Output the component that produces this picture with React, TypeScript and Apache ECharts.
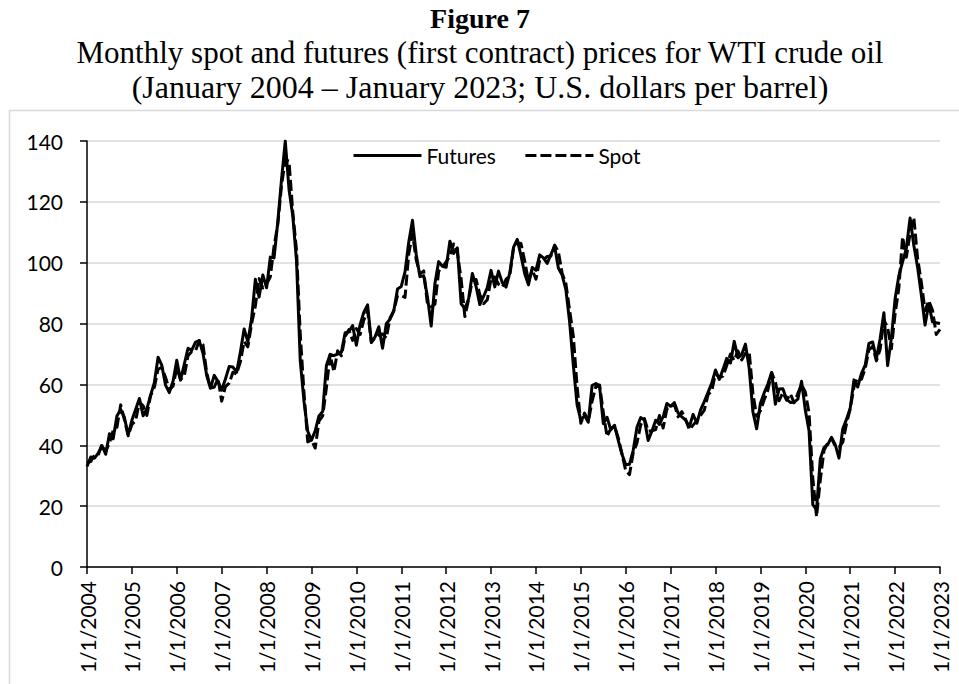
import React, { useEffect, useRef } from "react";
import * as echarts from "echarts";

const FIRST_YEAR = 2004;
const LAST_YEAR = 2023;

// Futures (first contract), monthly, Jan 2004 – Jan 2023
const futures = [
  33.05, 36.16, 35.76, 37.38, 39.88, 37.05, 43.8, 42.12, 49.64, 51.76, 49.13, 43.45,
  48.2, 51.75, 55.4, 49.72, 51.97, 56.5, 60.57, 68.94, 66.24, 59.76, 57.32, 61.04,
  67.92, 61.41, 66.63, 71.88, 71.29, 73.93, 74.4, 70.26, 62.91, 58.73, 62.97, 61.05,
  58.14, 61.79, 65.87, 65.71, 64.01, 70.68, 78.21, 74.04, 81.66, 94.53, 88.71, 95.98,
  91.75, 101.84, 101.58, 113.46, 127.35, 140.0, 124.08, 115.46, 100.64, 67.81, 54.43, 44.6,
  41.68, 44.76, 49.66, 51.12, 66.31, 69.89, 69.45, 69.96, 70.61, 77.0, 77.28, 79.36,
  72.89, 79.66, 83.76, 86.15, 73.97, 75.63, 78.95, 71.92, 79.97, 81.43, 84.11, 91.38,
  92.19, 96.97, 106.72, 113.93, 102.7, 95.42, 95.7, 88.81, 79.2, 93.19, 100.36, 98.83,
  98.48, 107.07, 103.02, 104.87, 86.53, 84.96, 88.06, 96.47, 92.19, 86.24, 88.91, 91.82,
  97.49, 92.05, 97.23, 93.46, 91.97, 96.56, 105.03, 107.65, 102.33, 96.38, 92.72, 98.42,
  97.49, 102.59, 101.58, 99.74, 102.71, 105.37, 98.17, 95.96, 91.16, 80.54, 66.15, 53.27,
  48.24, 49.76, 47.6, 59.63, 60.3, 59.47, 47.12, 49.2, 45.09, 46.59, 41.65, 37.04,
  33.62, 33.75, 38.34, 45.92, 49.1, 48.33, 41.6, 44.7, 48.24, 46.86, 49.44, 53.72,
  52.81, 54.01, 50.6, 49.33, 48.32, 46.04, 50.17, 47.23, 51.67, 54.38, 57.4, 60.42,
  64.73, 61.64, 64.94, 68.57, 67.04, 74.15, 68.76, 69.8, 73.25, 65.31, 50.93, 45.41,
  53.79, 57.22, 60.14, 63.91, 53.5, 58.47, 58.58, 55.1, 54.07, 54.18, 55.17, 61.06,
  51.56, 44.76, 20.48, 18.84, 35.49, 39.27, 40.27, 42.61, 40.22, 35.79, 45.34, 48.52,
  52.2, 61.5, 59.16, 63.58, 66.32, 73.47, 73.95, 68.5, 75.03, 83.57, 66.18, 75.21,
  88.15, 95.72, 100.28, 104.69, 114.67, 105.76, 98.62, 89.55, 79.49, 86.53, 80.55, 80.26,
  80.0,
];

// Spot, monthly, Jan 2004 – Jan 2023
const spot = [
  34.31, 34.69, 36.74, 36.75, 40.28, 38.03, 40.78, 44.9, 45.94, 53.28, 48.47, 43.15,
  46.84, 48.15, 54.19, 52.98, 49.83, 56.35, 59.0, 64.99, 65.59, 62.26, 58.32, 59.41,
  65.49, 61.63, 62.69, 69.44, 70.84, 70.95, 74.41, 73.04, 63.8, 58.89, 59.08, 61.96,
  54.51, 59.28, 60.44, 63.98, 63.46, 67.49, 74.12, 72.36, 79.92, 85.8, 94.77, 91.69,
  92.97, 95.39, 105.45, 112.58, 125.4, 133.88, 133.37, 116.67, 104.11, 76.61, 57.31, 41.12,
  41.71, 39.09, 47.94, 49.65, 59.03, 69.64, 64.15, 71.05, 69.41, 75.72, 77.99, 74.47,
  78.33, 76.39, 81.2, 84.29, 73.74, 75.34, 76.32, 76.6, 75.24, 81.89, 84.25, 89.15,
  89.17, 88.58, 102.86, 109.53, 100.9, 96.26, 97.3, 86.33, 85.52, 86.32, 97.16, 98.56,
  100.27, 102.2, 106.16, 103.32, 94.66, 82.3, 87.9, 94.13, 94.51, 89.49, 86.53, 87.86,
  94.76, 95.31, 92.94, 92.02, 94.51, 95.77, 104.67, 106.57, 106.29, 100.54, 93.86, 97.63,
  94.62, 100.82, 100.8, 102.07, 102.18, 105.79, 103.59, 96.54, 93.21, 84.4, 75.79, 59.29,
  47.22, 50.58, 47.82, 54.45, 59.27, 59.82, 50.9, 42.87, 45.48, 46.22, 42.44, 37.19,
  31.68, 30.32, 37.55, 40.75, 46.71, 48.76, 44.65, 44.72, 45.18, 49.78, 45.66, 51.97,
  52.5, 53.47, 49.33, 51.06, 48.48, 45.18, 46.63, 48.04, 49.82, 51.58, 56.64, 57.88,
  63.7, 62.23, 62.73, 66.25, 69.98, 67.87, 70.98, 68.06, 70.23, 70.75, 56.96, 49.52,
  51.38, 54.95, 58.15, 63.86, 60.83, 54.66, 57.35, 54.81, 56.95, 53.96, 57.03, 59.88,
  57.52, 50.54, 29.21, 16.55, 28.56, 38.31, 40.71, 42.34, 39.63, 39.4, 40.94, 47.02,
  52.0, 59.04, 62.33, 61.72, 65.17, 71.38, 72.49, 67.73, 71.54, 81.22, 78.65, 71.71,
  83.22, 91.64, 108.5, 101.78, 109.55, 114.84, 101.62, 93.67, 84.26, 87.55, 84.37, 76.44,
  78.12,
];

const seriesNames = ["Futures", "Spot"];
const titleText = "Figure 7";
const subtitleLines = [
  "Monthly spot and futures (first contract) prices for WTI crude oil",
  "(January 2004 \u2013 January 2023; U.S. dollars per barrel)",
];

const monthX = (i: number) => FIRST_YEAR + i / 12;

const LABEL_FONT = "Lato";
const SERIF = "'Liberation Serif', 'Times New Roman', serif";

export default function App() {
  const ref = useRef<HTMLDivElement>(null);

  useEffect(() => {
    if (!ref.current) return;
    const chart = echarts.init(ref.current, undefined, { renderer: "svg" });
    const option: any = {
      animation: false,
      backgroundColor: "#fff",
      graphic: [
        {
          type: "rect",
          silent: true,
          z: -10,
          shape: { x: 9.5, y: 110.5, width: 1200, height: 1000 },
          style: { fill: "none", stroke: "#d9d9d9", lineWidth: 1.5 },
        },
        {
          type: "text",
          x: 480,
          y: 18,
          style: {
            text: titleText,
            font: `bold 28px ${SERIF}`,
            fill: "#000",
            align: "center",
            verticalAlign: "middle",
            textAlign: "center",
            textVerticalAlign: "middle",
          },
        },
        ...subtitleLines.map((t, k) => ({
          type: "text",
          x: 480,
          y: 52 + k * 35,
          style: {
            text: t,
            font: `${k === 0 ? 31 : 32}px ${SERIF}`,
            fill: "#000",
            align: "center",
            verticalAlign: "middle",
            textAlign: "center",
            textVerticalAlign: "middle",
          },
        })),
      ],
      legend: {
        data: seriesNames,
        left: 347,
        top: 140,
        itemWidth: 68,
        itemHeight: 18,
        itemGap: 28,
        itemStyle: { opacity: 0 },
        lineStyle: { width: 3, color: "#000" },
        textStyle: { fontFamily: LABEL_FONT, fontSize: 21, color: "#000" },
      },
      grid: { left: 87, right: 19, top: 141, bottom: 117, containLabel: false },
      xAxis: {
        type: "value",
        min: FIRST_YEAR,
        max: LAST_YEAR,
        interval: 1,
        splitLine: { show: false },
        axisLine: { show: true, lineStyle: { color: "#000", width: 1.5 } },
        axisTick: { show: true, length: 7, lineStyle: { color: "#000", width: 1.5 } },
        axisLabel: {
          rotate: 90,
          margin: 14,
          showMinLabel: true,
          showMaxLabel: true,
          fontFamily: LABEL_FONT,
          fontSize: 21,
          color: "#000",
          formatter: (v: number) => "1/1/" + v,
        },
      },
      yAxis: {
        type: "value",
        min: 0,
        max: 140,
        interval: 20,
        axisLine: { show: true, lineStyle: { color: "#000", width: 1.5 } },
        axisTick: { show: true, length: 7, lineStyle: { color: "#000", width: 1.5 } },
        axisLabel: { margin: 24, fontFamily: LABEL_FONT, fontSize: 21, color: "#000" },
        splitLine: { show: true, lineStyle: { color: "#d9d9d9", width: 1.5 } },
      },
      series: [
        {
          name: seriesNames[0],
          type: "line",
          symbol: "none",
          showSymbol: false,
          data: futures.map((v, i) => [monthX(i), v]),
          itemStyle: { color: "#000" },
          lineStyle: { color: "#000", width: 3, join: "round" },
        },
        {
          name: seriesNames[1],
          type: "line",
          symbol: "none",
          showSymbol: false,
          data: spot.map((v, i) => [monthX(i), v]),
          itemStyle: { color: "#000" },
          lineStyle: { color: "#000", width: 3, type: [11, 4], join: "round" },
        },
      ],
    };
    chart.setOption(option);
    return () => chart.dispose();
  }, []);

  return (
    <div
      ref={ref}
      style={{ position: "absolute", left: 0, top: 0, width: 959, height: 684, background: "#fff" }}
    />
  );
}
